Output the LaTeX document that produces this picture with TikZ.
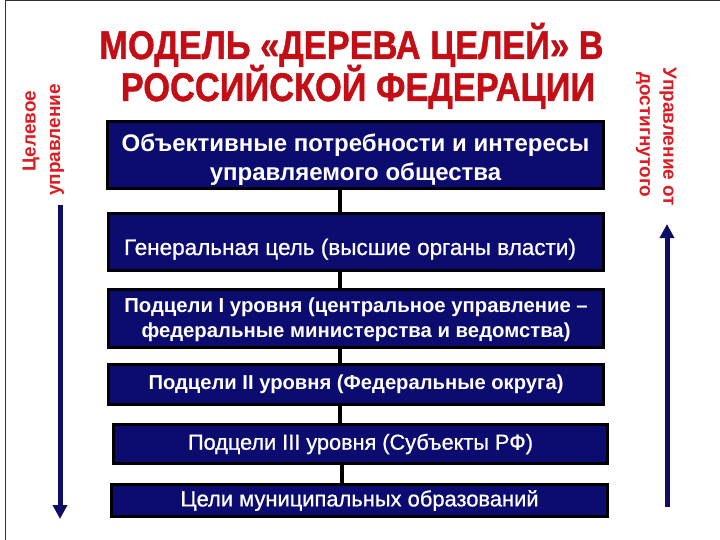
\documentclass[tikz,border=0pt]{standalone}
\usepackage{fontspec}
\setmainfont{Liberation Sans}
\newfontface\heavyfont{Liberation Sans Bold}[FakeBold=1.2]
\newfontface\midfont{Liberation Sans}[FakeBold=0.8]
\usetikzlibrary{arrows.meta}
\definecolor{navy}{RGB}{12,12,112}
\definecolor{arrowblue}{RGB}{14,14,100}
\definecolor{titlered}{RGB}{196,14,22}
\definecolor{sidered}{RGB}{220,28,34}
\begin{document}
\begin{tikzpicture}[x=1pt,y=-1pt,
  box/.style={draw=black,line width=3pt,fill=navy,text=white,inner sep=0pt,align=center},
  conn/.style={draw=black,line width=4pt},
  vert/.style={draw=arrowblue,line width=5pt,-{Triangle[width=14pt,length=14pt]}},
  sidetxt/.style={text=sidered,font=\fontsize{19}{22}\selectfont\bfseries,inner sep=0pt},
  titletxt/.style={text=titlered,font=\fontsize{40}{44}\selectfont\heavyfont,inner sep=0pt,anchor=base}]
\useasboundingbox (0,0) rectangle (720,540);
\fill[white] (0,0) rectangle (720,540);
\draw[black!80,line width=1pt] (5,540) -- (5,0.5) -- (720,0.5);
% title
\node[titletxt] (t1) at (351.5,59) {\scalebox{0.86}[1]{МОДЕЛЬ «ДЕРЕВА ЦЕЛЕЙ» В}};
\node[titletxt] (t2) at (358,101) {\scalebox{0.86}[1]{РОССИЙСКОЙ ФЕДЕРАЦИИ}};
% boxes
\node[box,minimum width=496pt,minimum height=67pt,font=\fontsize{24}{29}\selectfont\bfseries] (b1) at (355.5,155)
  {\raisebox{-11.5pt}[0pt][0pt]{\begin{tabular}{@{}c@{}}Объективные потребности и интересы\\управляемого общества\end{tabular}}};
\node[box,minimum width=495pt,minimum height=57pt,font=\fontsize{22.5}{26}\selectfont\midfont] (b2) at (356,242)
  {\raisebox{-13pt}[0pt][0pt]{Генеральная цель (высшие органы власти)\hspace{12pt}}};
\node[box,minimum width=495pt,minimum height=58pt,font=\fontsize{20.3}{25}\selectfont\bfseries] (b3) at (356,318.5)
  {\raisebox{-7pt}[0pt][0pt]{\begin{tabular}{@{}c@{}}Подцели I уровня (центральное управление –\\федеральные министерства и ведомства)\end{tabular}}};
\node[box,minimum width=495pt,minimum height=40pt,font=\fontsize{20.2}{23}\selectfont\bfseries] (b4) at (356,384.5)
  {Подцели II уровня (Федеральные округа)};
\node[box,minimum width=494pt,minimum height=39pt,font=\fontsize{21.7}{24}\selectfont\midfont] (b5) at (360.5,444)
  {Подцели III уровня (Субъекты РФ)};
\node[box,minimum width=496pt,minimum height=32pt,font=\fontsize{21.9}{24}\selectfont\midfont] (b6) at (359.5,500.5)
  {Цели муниципальных образований};
% connectors
\coordinate (cx) at (340,0);
\coordinate (cy) at (342,0);
\draw[conn] (b1.south -| cx) -- (b2.north -| cx);
\draw[conn] (b2.south -| cx) -- (b3.north -| cx);
\draw[conn] (b3.south -| cx) -- (b4.north -| cx);
\draw[conn] (b4.south -| cx) -- (b5.north -| cx);
\draw[conn] (b5.south -| cy) -- (b6.north -| cy);
% side arrows
\coordinate (la1) at (60,205);
\coordinate (la2) at (60,519);
\draw[vert] (la1) -- (la2);
\coordinate (ra1) at (667,507);
\coordinate (ra2) at (667,224);
\draw[vert] (ra1) -- (ra2);
% side texts
\node[sidetxt,rotate=90] (l1) at (31,131) {Целевое};
\node[sidetxt,rotate=90] (l2) at (57,140) {управление};
\node[sidetxt,rotate=-90] (r1) at (668,137) {Управление от};
\node[sidetxt,rotate=-90] (r2) at (643,135) {достигнутого};
\end{tikzpicture}
\end{document}
